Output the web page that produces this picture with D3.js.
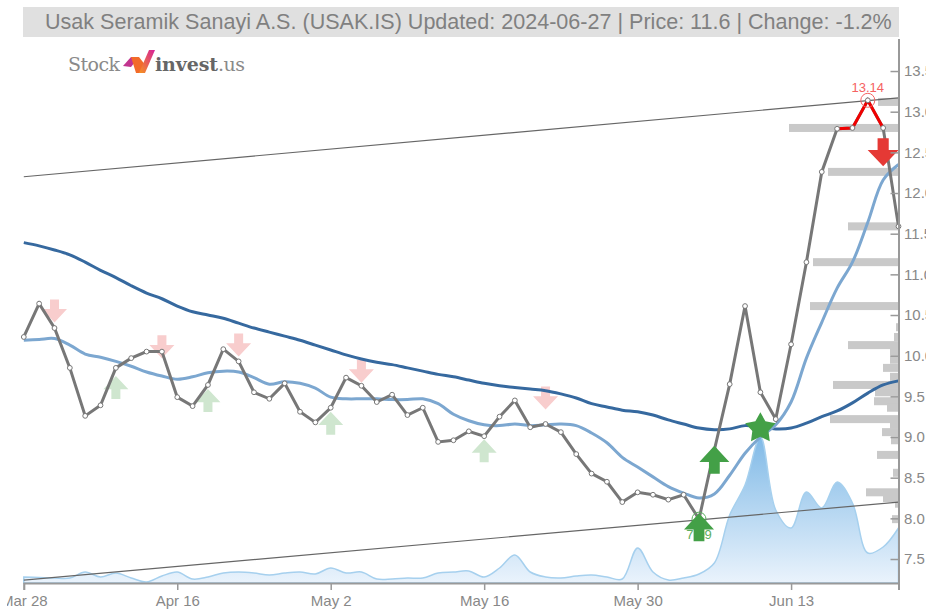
<!DOCTYPE html>
<html>
<head>
<meta charset="utf-8">
<script src="https://cdn.jsdelivr.net/npm/d3@7"></script>
<style>
    html, body { margin: 0; padding: 0; background: #fff; overflow: hidden; }
    svg { display: block; }
    text { font-family: "Liberation Sans", Arial, sans-serif; }
</style>
</head>
<body>
<svg id="chart" width="926" height="610"></svg>
<script>
const titleText = 'Usak Seramik Sanayi A.S. (USAK.IS) Updated: 2024-06-27 | Price: 11.6 | Change: -1.2%';

const priceTicks = [7.5, 8, 8.5, 9, 9.5, 10, 10.5, 11, 11.5, 12, 12.5, 13, 13.5];
const dateTickIndex = [0, 10, 20, 30, 40, 50, 57];
const dateTickLabels = ['Mar 28', 'Apr 16', 'May 2', 'May 16', 'May 30', 'Jun 13', ''];

const closes = [
    10.23, 10.64, 10.34, 9.85, 9.26, 9.39, 9.85, 9.97, 10.05, 10.05,
    9.49, 9.38, 9.64, 10.08, 9.93, 9.55, 9.47, 9.66, 9.31, 9.18,
    9.36, 9.73, 9.63, 9.43, 9.52, 9.27, 9.36, 8.94, 8.96, 9.07,
    9.01, 9.25, 9.45, 9.12, 9.16, 9.06, 8.79, 8.55, 8.45, 8.20,
    8.32, 8.29, 8.23, 8.29, 7.99, 8.84, 9.65, 10.61, 9.55, 9.22,
    10.14, 11.15, 12.26, 12.79, 12.80, 13.14, 12.80, 11.59
];
const shortAvg = [
    10.19, 10.20, 10.21, 10.13, 10.02, 9.98, 9.93, 9.87, 9.80, 9.75,
    9.71, 9.74, 9.79, 9.81, 9.80, 9.73, 9.65, 9.68, 9.66, 9.60,
    9.49, 9.47, 9.47, 9.47, 9.46, 9.46, 9.47, 9.41, 9.28, 9.20,
    9.15, 9.14, 9.16, 9.14, 9.15, 9.16, 9.14, 9.05, 8.93, 8.75,
    8.63, 8.51, 8.39, 8.31, 8.25, 8.30, 8.53, 8.80, 9.00, 9.15,
    9.43, 9.97, 10.41, 10.83, 11.15, 11.64, 12.16, 12.35
];
const longAvg = [
    11.39, 11.35, 11.30, 11.24, 11.15, 11.05, 10.96, 10.86, 10.77, 10.70,
    10.61, 10.54, 10.50, 10.46, 10.40, 10.34, 10.29, 10.24, 10.19, 10.13,
    10.07, 10.01, 9.96, 9.92, 9.89, 9.85, 9.81, 9.77, 9.74, 9.70,
    9.66, 9.63, 9.61, 9.59, 9.57, 9.53, 9.48, 9.41, 9.37, 9.33,
    9.31, 9.27, 9.21, 9.16, 9.11, 9.09, 9.10, 9.14, 9.12, 9.10,
    9.11, 9.17, 9.25, 9.32, 9.42, 9.54, 9.64, 9.69
];
const volumes = [
    6, 5.5, 5, 5, 11, 6, 10, 5, 1, 7,
    11, 4, 6, 10, 11, 10, 8, 10, 11, 9,
    15, 10, 11, 4, 4, 5, 5, 10, 11, 12,
    6, 15, 28, 11, 6, 5, 7, 8, 6, 4,
    35, 11, 3, 5, 9, 20, 68, 98, 146, 73,
    55, 91, 75, 101, 80, 30, 36, 55
];

// volume at price, right hand side
const profileLevels = [
    13.12, 12.80, 12.26, 11.59, 11.15, 10.61, 10.35, 10.23, 10.13, 10.05,
    9.95, 9.85, 9.74, 9.64, 9.55, 9.44, 9.36, 9.22, 9.15, 9.06,
    8.96, 8.78, 8.56, 8.32, 8.25, 8.18, 7.99
];
const profileVolumes = [
    20, 109, 70, 50, 85, 88, 2, 4, 50, 8,
    8, 15, 8, 65, 23, 24, 11, 68, 8, 16,
    7, 21, 5, 32, 15, 3, 6
];

const upperTrend = [12.20, 13.17];
const lowerTrend = [7.24, 8.20];

const weakSellIndex = [2, 9, 14, 22, 34];
const weakSellPrice = [10.55, 10.11, 10.13, 9.81, 9.48];
const weakBuyIndex = [6, 12, 20, 30];
const weakBuyPrice = [9.61, 9.45, 9.17, 8.83];
const strongBuyIndex = [44, 45];
const strongBuyPrice = [7.89, 8.72];
const starIndex = 48;
const starPrice = 9.12;
const strongSellIndex = 56;
const strongSellPrice = 12.50;
const highIndex = 55;
const lowIndex = 44;

const svg = d3.select('#chart');
const n = closes.length;

const x = d3.scaleLinear().domain([0, n - 1]).range([23.8, 898.5]);
const y = d3.scaleLinear().domain([7.2, 13.9]).range([583.4, 38.5]);
const yVol = d3.scaleLinear().domain([0, 150]).range([583, 433]);
const xProfile = d3.scaleLinear().domain([0, 109]).range([898, 789]);

// gradient for volume area
const defs = svg.append('defs');
const grad = defs.append('linearGradient')
    .attr('id', 'volFill')
    .attr('gradientUnits', 'userSpaceOnUse')
    .attr('x1', 0).attr('x2', 0)
    .attr('y1', 433).attr('y2', 583);
grad.append('stop').attr('offset', '0%').attr('stop-color', '#7db8e6');
grad.append('stop').attr('offset', '100%').attr('stop-color', '#eaf3fc');

const logoGrad = defs.append('linearGradient')
    .attr('id', 'logoFill')
    .attr('x1', 0).attr('x2', 1).attr('y1', 1).attr('y2', 0);
logoGrad.append('stop').attr('offset', '0%').attr('stop-color', '#f7941d');
logoGrad.append('stop').attr('offset', '100%').attr('stop-color', '#d6219a');

// clip is in the axis group's own coordinates
defs.append('clipPath').attr('id', 'xAxisClip')
    .append('rect').attr('x', 7).attr('y', -5).attr('width', 919).attr('height', 32);

// title
svg.append('rect')
    .attr('x', 23).attr('y', 7)
    .attr('width', 876).attr('height', 30)
    .attr('fill', '#e0e0e0');
svg.append('text')
    .attr('x', 45).attr('y', 29)
    .attr('fill', '#808080')
    .style('font-size', '21.55px')
    .text(titleText);

// logo
const logo = svg.append('g');
logo.append('text').attr('x', 68).attr('y', 71)
    .attr('fill', '#8a8a8a')
    .attr('textLength', 52)
    .style('font-family', '"DejaVu Serif", serif')
    .style('font-size', '19px')
    .text('Stock');
logo.append('text').attr('x', 155).attr('y', 71)
    .attr('fill', '#666')
    .attr('textLength', 63)
    .style('font-family', '"DejaVu Serif", serif')
    .style('font-weight', 'bold')
    .style('font-size', '19px')
    .text('invest');
logo.append('text').attr('x', 218).attr('y', 71)
    .attr('fill', '#8a8a8a')
    .attr('textLength', 27)
    .style('font-family', '"DejaVu Serif", serif')
    .style('font-size', '19px')
    .text('.us');
logo.append('path').attr('d', 'M123,66 L131,57 L139,57 L131,67 Z').attr('fill', '#c2358f');
logo.append('path').attr('d', 'M131,57 L139,57 L146,66 L141,73 L136,73 Z').attr('fill', '#f26b2a');
logo.append('path').attr('d', 'M139,73 L149,50 L155,50 L145,73 Z').attr('fill', 'url(#logoFill)');

// volume area
const volArea = d3.area()
    .x((d, i) => x(i))
    .y0(yVol(0))
    .y1(d => yVol(d))
    .curve(d3.curveCatmullRom);
svg.append('path')
    .datum(volumes)
    .attr('d', volArea)
    .attr('fill', 'url(#volFill)')
    .attr('stroke', '#a6d0ee')
    .attr('stroke-width', 1.5);

// volume at price
svg.selectAll('.profile')
    .data(profileLevels)
    .enter()
    .append('rect')
    .attr('class', 'profile')
    .attr('x', (d, i) => xProfile(profileVolumes[i]))
    .attr('y', d => y(d) - 4)
    .attr('width', (d, i) => xProfile(0) - xProfile(profileVolumes[i]))
    .attr('height', 8)
    .attr('fill', '#c9c9c9');

// trend lines
[upperTrend, lowerTrend].forEach(t => {
    svg.append('line')
        .attr('x1', x(0)).attr('x2', x(n - 1))
        .attr('y1', y(t[0])).attr('y2', y(t[1]))
        .attr('stroke', '#666')
        .attr('stroke-width', 1.2);
});

function arrowPath(w, h, dir) {
    // dir -1 points up, 1 points down, drawn around 0,0
    const stem = w * 0.36;
    const head = h * 0.58;
    const tip = dir * h / 2;
    const neck = tip - dir * head;
    const tail = -dir * h / 2;
    return `M0,${tip} L${w / 2},${neck} L${stem / 2},${neck} L${stem / 2},${tail} ` +
        `L${-stem / 2},${tail} L${-stem / 2},${neck} L${-w / 2},${neck} Z`;
}

function drawArrows(index, price, w, h, dir, color) {
    svg.selectAll(null)
        .data(index)
        .enter()
        .append('path')
        .attr('d', arrowPath(w, h, dir))
        .attr('transform', (d, i) => `translate(${x(d)},${y(price[i])})`)
        .attr('fill', color);
}

// pale signals sit under the lines
drawArrows(weakSellIndex, weakSellPrice, 25, 23, 1, '#f8cdcd');
drawArrows(weakBuyIndex, weakBuyPrice, 25, 23, -1, '#cfe6cf');

const line = d3.line()
    .x(d => x(d.i))
    .y(d => y(d.v));
const indexed = arr => arr.map((v, i) => ({ i, v }));

line.curve(d3.curveCatmullRom);
svg.append('path')
    .attr('d', line(indexed(longAvg)))
    .attr('fill', 'none')
    .attr('stroke', '#36699f')
    .attr('stroke-width', 3);
svg.append('path')
    .attr('d', line(indexed(shortAvg)))
    .attr('fill', 'none')
    .attr('stroke', '#7ca7d0')
    .attr('stroke-width', 3);

line.curve(d3.curveLinear);
svg.append('path')
    .attr('d', line(indexed(closes)))
    .attr('fill', 'none')
    .attr('stroke', '#777')
    .attr('stroke-width', 3);
svg.append('path')
    .attr('d', line(indexed(closes).slice(53, 57)))
    .attr('fill', 'none')
    .attr('stroke', '#f00000')
    .attr('stroke-width', 3);

svg.selectAll('.dot')
    .data(closes)
    .enter()
    .append('circle')
    .attr('class', 'dot')
    .attr('cx', (d, i) => x(i))
    .attr('cy', d => y(d))
    .attr('r', 2.4)
    .attr('fill', '#fff')
    .attr('stroke', '#777')
    .attr('stroke-width', 1);

// high and low marks
svg.append('circle')
    .attr('cx', x(highIndex)).attr('cy', y(closes[highIndex]))
    .attr('r', 7).attr('fill', 'none')
    .attr('stroke', '#f56262').attr('stroke-width', 1);
svg.append('text')
    .attr('x', x(highIndex)).attr('y', y(closes[highIndex]) - 8)
    .attr('text-anchor', 'middle')
    .attr('fill', '#f56262')
    .style('font-size', '13px')
    .text(closes[highIndex].toFixed(2));
svg.append('circle')
    .attr('cx', x(lowIndex)).attr('cy', y(closes[lowIndex]))
    .attr('r', 7).attr('fill', 'none')
    .attr('stroke', '#5cae60').attr('stroke-width', 1);
svg.append('text')
    .attr('x', x(lowIndex)).attr('y', y(closes[lowIndex]) + 20)
    .attr('text-anchor', 'middle')
    .attr('fill', '#5cae60')
    .style('font-size', '13px')
    .text(closes[lowIndex].toFixed(2));

// strong signals on top
drawArrows(strongBuyIndex, strongBuyPrice, 30, 28, -1, '#43a047');
drawArrows([strongSellIndex], [strongSellPrice], 31, 28, 1, '#e53935');

// fatter star than d3.symbolStar
const starPoints = d3.range(10).map(i => [i * Math.PI / 5, i % 2 ? 8.5 : 16]);
svg.append('path')
    .attr('d', d3.lineRadial().curve(d3.curveLinearClosed)(starPoints))
    .attr('transform', `translate(${x(starIndex)},${y(starPrice) + 1})`)
    .attr('fill', '#43a047');

// axes
const xAxis = svg.append('g')
    .attr('transform', `translate(0,${yVol(0)})`)
    .attr('clip-path', 'url(#xAxisClip)')
    .call(d3.axisBottom(x)
        .tickValues(dateTickIndex)
        .tickFormat((d, i) => dateTickLabels[i])
        .tickSizeOuter(0)
        .tickSize(7)
        .tickPadding(5));
const yAxis = svg.append('g')
    .attr('transform', `translate(${x(n - 1)},0)`)
    .call(d3.axisRight(y)
        .tickValues(priceTicks)
        .tickFormat(d3.format('.1f'))
        .tickSizeOuter(0));
yAxis.selectAll('.tick line').attr('x2', -8);
yAxis.selectAll('.tick text').attr('x', 5.5);

[xAxis, yAxis].forEach(a => {
    a.select('.domain').attr('stroke', '#999').attr('stroke-width', 2);
    a.selectAll('.tick line').attr('stroke', '#999').attr('stroke-width', 1.5);
    a.selectAll('.tick text')
        .attr('fill', '#888')
        .style('font-family', '"Liberation Sans", Arial, sans-serif')
        .style('font-size', '15px');
});
</script>
</body>
</html>
